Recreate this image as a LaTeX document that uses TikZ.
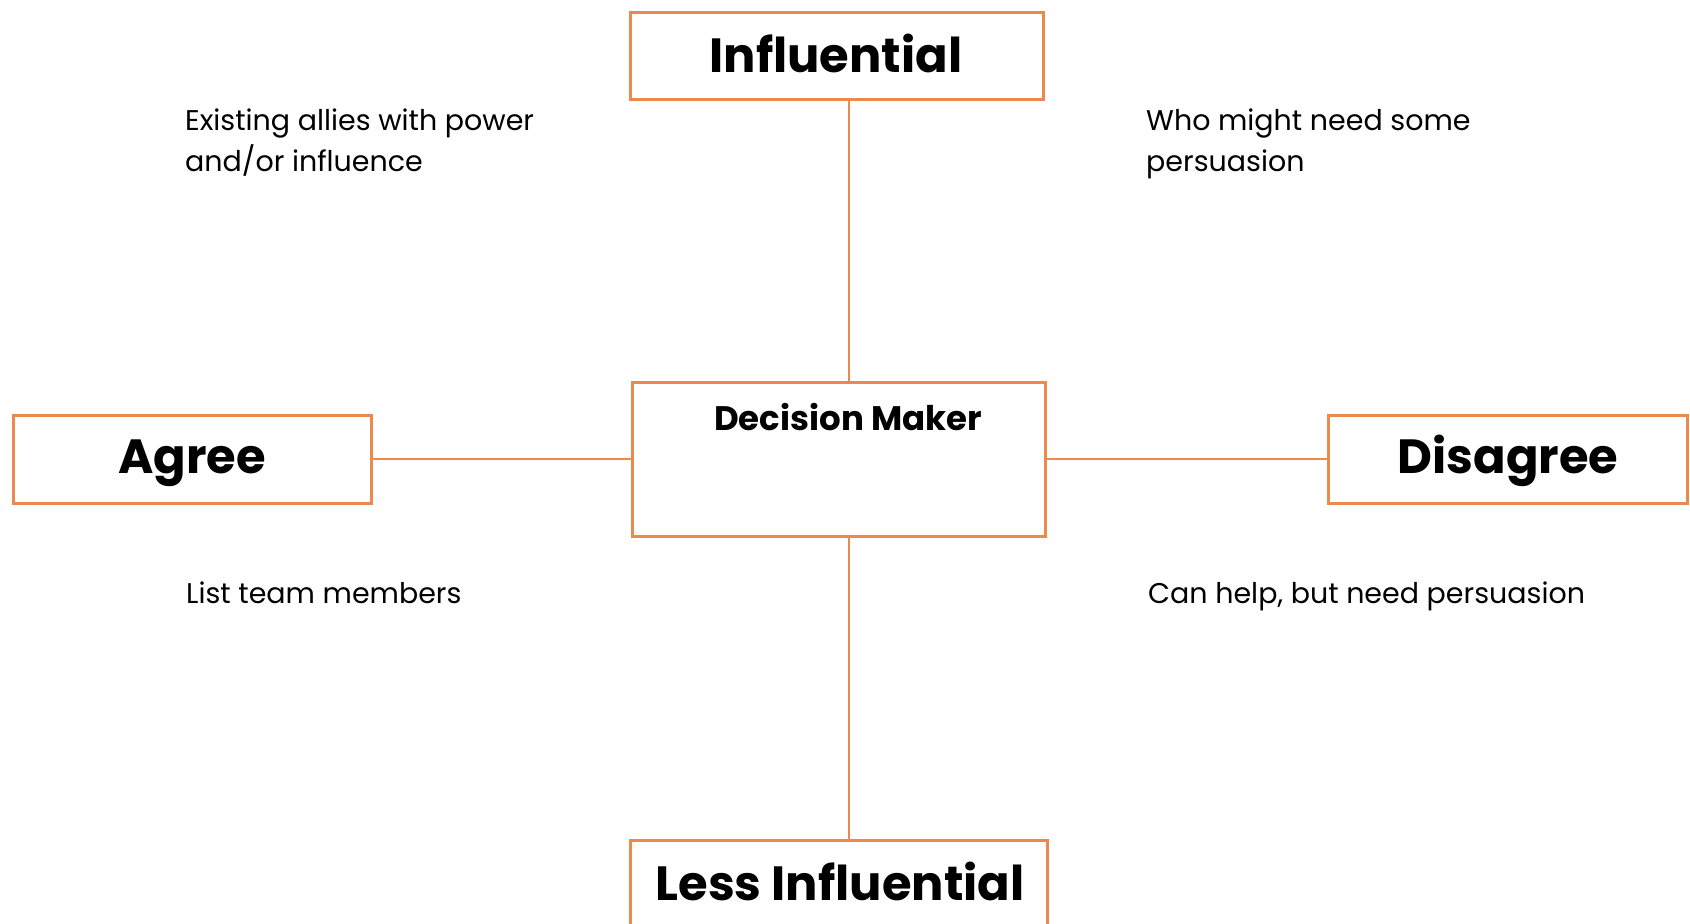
\documentclass[tikz,border=0pt]{standalone}
\usepackage{fontspec}
\setmainfont{Poppins}
\definecolor{edge}{RGB}{236,137,78}
\begin{document}
\begin{tikzpicture}[x=1pt,y=-1pt,
  box/.style={draw=edge, line width=3pt, fill=white, rectangle, inner sep=0pt},
  link/.style={draw=edge, line width=2.6pt},
  head/.style={font=\fontsize{48}{48}\selectfont\bfseries, anchor=base, inner sep=0pt},
  subhead/.style={font=\fontsize{34}{34}\selectfont\bfseries, anchor=base, inner sep=0pt},
  note/.style={font=\fontsize{28.5}{34}\selectfont, anchor=base west, inner sep=0pt}]
\useasboundingbox (0,0) rectangle (1690,924);
\clip (0,0) rectangle (1690,924);

% frames
\node[box, minimum width=413pt, minimum height=87pt]  (infl)  at (836.5,55.5) {};
\node[box, minimum width=413pt, minimum height=154pt] (dm)    at (838.5,459) {};
\node[box, minimum width=358pt, minimum height=88pt]  (agree) at (192,459) {};
\node[box, minimum width=359pt, minimum height=88pt]  (dis)   at (1507.5,459) {};
\node[box, minimum width=417pt, minimum height=160pt] (less)  at (838.5,920) {};

% connectors
\draw[link] ([xshift=12.5pt]infl.south) -- ([xshift=10.5pt]dm.north);
\draw[link] ([xshift=10.5pt]dm.south) -- ([xshift=10.5pt]less.north);
\draw[link] (agree.east) -- (dm.west);
\draw[link] (dm.east) -- (dis.west);

% titles
\node[head] (tinfl) at (836,72) {Influential};
\node[subhead] (tdm) at (848,430) {Decision Maker};
\node[head] (tagree) at (192,473) {Agree};
\node[head] (tdis) at (1508,473) {Disagree};
\node[head] (tless) at (840,900) {Less Influential};

% quadrant notes
\node[note] (n1a) at (185,130) {Existing allies with power};
\node[note] (n1b) at (185,171) {and/or influence};
\node[note] (n2a) at (1146,130) {Who might need some};
\node[note] (n2b) at (1146,171) {persuasion};
\node[note] (n3) at (186,603) {List team members};
\node[note] (n4) at (1148,603) {Can help, but need persuasion};
\end{tikzpicture}
\end{document}
